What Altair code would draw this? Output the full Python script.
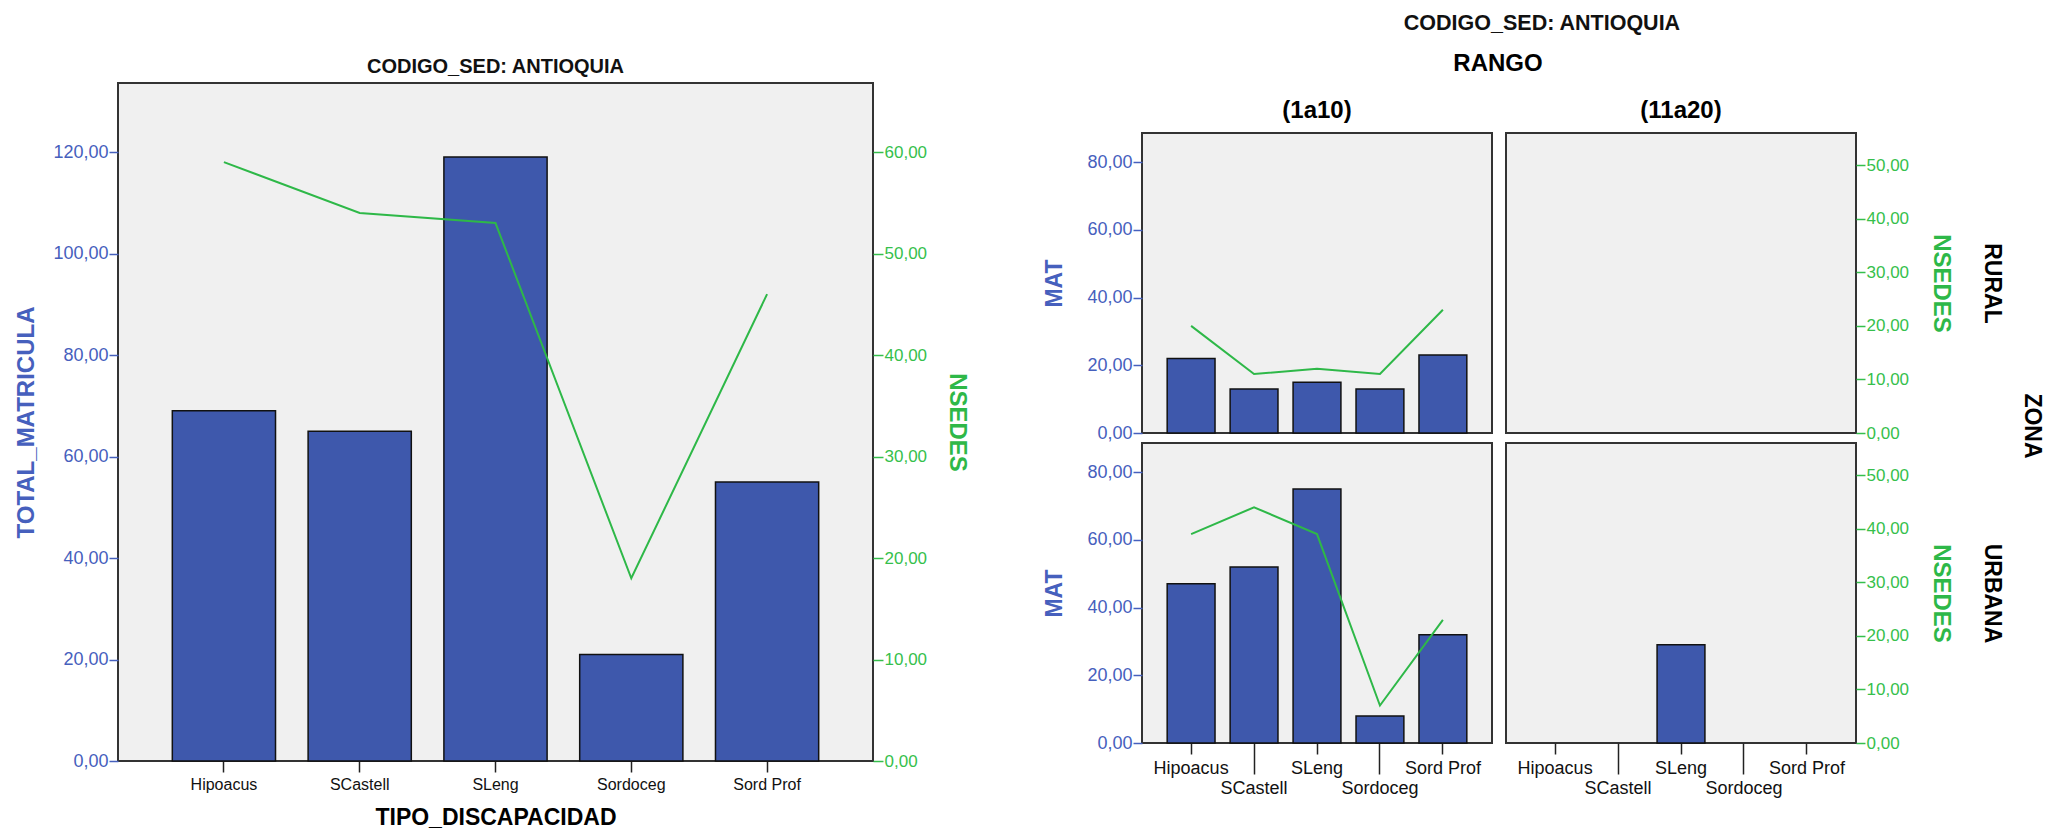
import altair as alt
import pandas as pd

# ---------------- data ----------------
categories = ["Hipoacus", "SCastell", "SLeng", "Sordoceg", "Sord Prof"]
total_matricula = [69, 65, 119, 21, 55]
nsedes_total = [59, 54, 53, 18, 46]

rangos = ["(1a10)", "(11a20)"]
zonas = ["RURAL", "URBANA"]

rural_1a10_mat = [22, 13, 15, 13, 23]
rural_1a10_nsedes = [20, 11, 12, 11, 23]
urbana_1a10_mat = [47, 52, 75, 8, 32]
urbana_1a10_nsedes = [39, 44, 39, 7, 23]
urbana_11a20_cat = ["SLeng"]
urbana_11a20_mat = [29]
urbana_11a20_nsedes = [None]

left_y_ticks = [0, 20, 40, 60, 80, 100, 120]
left_y2_ticks = [0, 10, 20, 30, 40, 50, 60]
right_y_ticks = [0, 20, 40, 60, 80]
right_y2_ticks = [0, 10, 20, 30, 40, 50]

# ---------------- style ----------------
FONT = "Liberation Sans"
BLUE = "#3E58AC"
BLUE_TXT = "#4660BD"
GREEN = "#2EB848"
GREEN_TXT = "#36BF4C"
FMT = "replace(format(datum.value, '.2f'), '.', ',')"
HIDDEN_VIEW = alt.ViewBackground(fill="transparent", stroke="transparent")

df_left = pd.DataFrame({
    "TIPO_DISCAPACIDAD": categories,
    "TOTAL_MATRICULA": total_matricula,
    "NSEDES": nsedes_total,
})

rows = []
for c, m, n in zip(categories, rural_1a10_mat, rural_1a10_nsedes):
    rows.append({"RANGO": rangos[0], "ZONA": zonas[0], "TIPO": c, "MAT": m, "NSEDES": n})
for c, m, n in zip(categories, urbana_1a10_mat, urbana_1a10_nsedes):
    rows.append({"RANGO": rangos[0], "ZONA": zonas[1], "TIPO": c, "MAT": m, "NSEDES": n})
for c, m, n in zip(urbana_11a20_cat, urbana_11a20_mat, urbana_11a20_nsedes):
    rows.append({"RANGO": rangos[1], "ZONA": zonas[1], "TIPO": c, "MAT": m, "NSEDES": n})
df_right = pd.DataFrame(rows)


def band():
    return alt.Scale(domain=categories, paddingInner=0.24, paddingOuter=0.4)


# ---------------- left chart ----------------
x_left = alt.X(
    "TIPO_DISCAPACIDAD:N", sort=categories, scale=band(),
    axis=alt.Axis(title="TIPO_DISCAPACIDAD", labelAngle=0, tickSize=11, tickColor="#222",
                  tickWidth=1.5, labelFontSize=16, labelColor="#111", labelPadding=4,
                  titleFontSize=23, titleFontWeight="bold", titleColor="#000",
                  titlePadding=14, domain=False, labelFont=FONT, titleFont=FONT),
)
bars_left = alt.Chart(df_left).mark_bar(color=BLUE, stroke="#111", strokeWidth=1.5).encode(
    x=x_left,
    y=alt.Y("TOTAL_MATRICULA:Q", scale=alt.Scale(domain=[0, 133.6], nice=False),
            axis=alt.Axis(values=left_y_ticks, labelExpr=FMT, title="TOTAL_MATRICULA",
                          grid=False, domain=False, tickColor=BLUE_TXT, tickSize=9, tickWidth=1.5,
                          labelColor=BLUE_TXT, labelFontSize=18, labelPadding=1,
                          titleColor=BLUE_TXT, titleFontSize=24, titleFontWeight="bold",
                          titlePadding=14, labelFont=FONT, titleFont=FONT)),
)
line_left = alt.Chart(df_left).mark_line(color=GREEN, strokeWidth=2).encode(
    x=x_left,
    y=alt.Y("NSEDES:Q", scale=alt.Scale(domain=[0, 66.8], nice=False),
            axis=alt.Axis(orient="right", values=left_y2_ticks, labelExpr=FMT, title="NSEDES",
                          grid=False, domain=False, tickColor=GREEN_TXT, tickSize=10, tickWidth=1.5,
                          labelColor=GREEN_TXT, labelFontSize=17, labelPadding=1,
                          titleColor=GREEN, titleFontSize=24, titleFontWeight="bold",
                          titlePadding=18, titleAngle=90, labelFont=FONT, titleFont=FONT)),
)
left = alt.layer(bars_left, line_left).resolve_scale(y="independent").properties(
    width=755, height=678,
    title=alt.TitleParams("CODIGO_SED: ANTIOQUIA", fontSize=20, font=FONT,
                          fontWeight="bold", color="#111", offset=6),
)

# ---------------- right grid ----------------
STAG = "datum.value == 'SCastell' || datum.value == 'Sordoceg'"


def panel(rango, zona, show_left, show_right, show_x, title=None):
    if show_x:
        xaxis = alt.Axis(title=None, labelAngle=0,
                         tickSize={"condition": {"test": STAG, "value": 31}, "value": 11},
                         tickColor="#222", tickWidth=1.5, labelFontSize=18, labelColor="#111",
                         labelPadding=5, domain=False, labelFont=FONT)
    else:
        xaxis = None
    x = alt.X("TIPO:N", sort=categories, scale=band(), axis=xaxis)
    if show_left:
        laxis = alt.Axis(values=right_y_ticks, labelExpr=FMT, title="MAT",
                         grid=False, domain=False, tickColor=BLUE_TXT, tickSize=9, tickWidth=1.5,
                         labelColor=BLUE_TXT, labelFontSize=18, labelPadding=1,
                         titleColor=BLUE_TXT, titleFontSize=23, titleFontWeight="bold",
                         titlePadding=20, labelFont=FONT, titleFont=FONT)
    else:
        laxis = None
    if show_right:
        raxis = alt.Axis(orient="right", values=right_y2_ticks, labelExpr=FMT, title="NSEDES",
                         grid=False, domain=False, tickColor=GREEN_TXT, tickSize=9, tickWidth=1.5,
                         labelColor=GREEN_TXT, labelFontSize=17, labelPadding=1,
                         titleColor=GREEN, titleFontSize=24, titleFontWeight="bold",
                         titlePadding=20, titleAngle=90, labelFont=FONT, titleFont=FONT)
    else:
        raxis = None
    base = alt.Chart(df_right).transform_filter(
        (alt.datum.RANGO == rango) & (alt.datum.ZONA == zona)
    )
    bars = base.mark_bar(color=BLUE, stroke="#111", strokeWidth=1.5).encode(
        x=x, y=alt.Y("MAT:Q", scale=alt.Scale(domain=[0, 88.6], nice=False), axis=laxis))
    line = base.mark_line(color=GREEN, strokeWidth=2).encode(
        x=x, y=alt.Y("NSEDES:Q", scale=alt.Scale(domain=[0, 56], nice=False), axis=raxis))
    layers = [bars, line]
    if show_right:
        label = base.mark_rule(opacity=0).encode(
            x=x,
            y=alt.Y("MAT:Q", scale=alt.Scale(domain=[0, 88.6], nice=False),
                    axis=alt.Axis(orient="right", title=zona, labels=False, ticks=False,
                                  domain=False, grid=False, titleColor="#000", titleFontSize=23,
                                  titleFont=FONT, titleFontWeight="bold", titleAngle=90,
                                  titlePadding=0, offset=123)))
        layers.append(label)
    props = dict(width=350, height=300)
    if title:
        props["title"] = alt.TitleParams(title, fontSize=24, font=FONT, fontWeight="bold",
                                         color="#000", offset=10)
    return alt.layer(*layers).resolve_scale(y="independent").properties(**props)


top_row = alt.hconcat(
    panel(rangos[0], zonas[0], True, False, False, rangos[0]),
    panel(rangos[1], zonas[0], False, True, False, rangos[1]),
    spacing=12,
)
bottom_row = alt.hconcat(
    panel(rangos[0], zonas[1], True, False, True),
    panel(rangos[1], zonas[1], False, True, True),
    spacing=12,
)
grid = alt.vconcat(
    top_row, bottom_row, spacing=-5,
    title=alt.TitleParams("ZONA", orient="right", angle=90, fontSize=23, font=FONT,
                          fontWeight="bold", color="#000", anchor="middle", offset=17, dx=-22),
)
spacer = alt.Chart(df_right).mark_point(opacity=0).properties(
    width=712, height=1, view=HIDDEN_VIEW,
    title=alt.TitleParams("RANGO", fontSize=24, font=FONT, fontWeight="bold",
                          color="#000", offset=5, anchor="middle"),
)
right = alt.vconcat(
    spacer, grid, spacing=11,
    title=alt.TitleParams("CODIGO_SED: ANTIOQUIA", fontSize=21.5, font=FONT,
                          fontWeight="bold", color="#111", anchor="middle", offset=17, dx=-1),
)

chart = alt.hconcat(left, right, spacing=72).properties(
    padding={"left": 5, "top": 4, "right": 6, "bottom": 0},
).configure_view(
    fill="#F0F0F0", stroke="#333", strokeWidth=2,
)

chart.save("out.html", embed_options={"renderer": "svg", "actions": False})
